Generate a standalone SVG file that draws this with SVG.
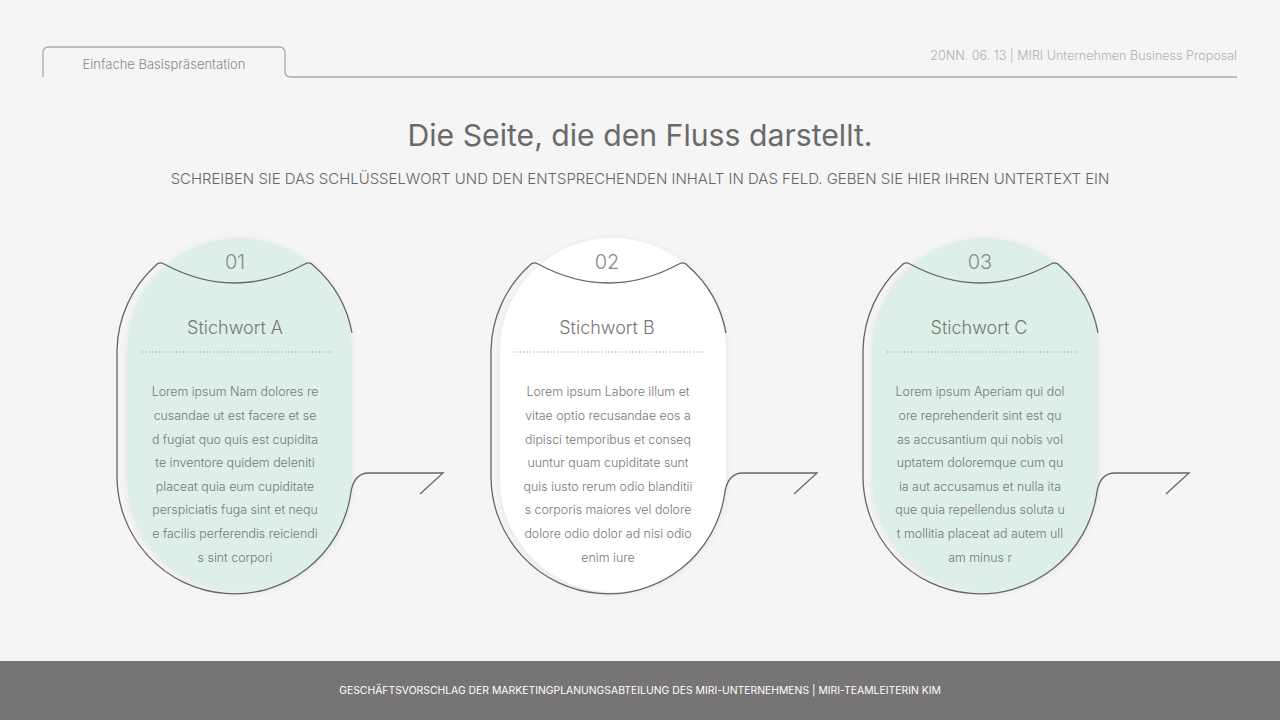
<svg xmlns="http://www.w3.org/2000/svg" width="1280" height="720" viewBox="0 0 1280 720">
<defs>
<style>
text{font-family:Inter,"Noto Sans","Liberation Sans",sans-serif}
.num{font-size:20px;fill:#8a8a8a;text-anchor:middle;font-weight:300}
.kw{font-size:18px;fill:#777;text-anchor:middle;font-weight:300}
.body{font-size:12.4px;fill:#777;text-anchor:middle;font-weight:300}
.outline{fill:none;stroke:#666;stroke-width:1.3}
.dots{stroke:#999;stroke-width:1.2;stroke-dasharray:1.2 2.2}
.mint{fill:#ddefe8}
.white{fill:#ffffff}
</style>
<filter id="sh" x="-20%" y="-20%" width="140%" height="140%">
<feDropShadow dx="0" dy="1" stdDeviation="3" flood-color="#000" flood-opacity="0.07"/>
</filter>
<path id="card-outline" d="M235 333 A117.5 117.5 0 0 0 197 266 Q193 261 188 264 Q117.5 302 47 264 Q42 261 38 266 A117.5 117.5 0 0 0 0 350 L0 476 A117.5 117.5 0 0 0 233.5 495 Q236 473 252 473 L326 473 L303 494"/>
</defs>
<rect width="1280" height="720" fill="#f5f5f5"/>
<g id="header">
<path d="M43 77 L43 53 Q43 47 49 47 L279 47 Q285 47 285 53 L285 71 Q285 77 291 77 L1237 77" fill="none" stroke="#aaa" stroke-width="1.3"/>
<text x="164" y="69" font-size="13" font-weight="300" fill="#8a8a8a" text-anchor="middle">Einfache Basispräsentation</text>
<text x="1237" y="60" font-size="12.55" font-weight="300" fill="#b0b0b0" text-anchor="end">20NN. 06. 13 | MIRI Unternehmen Business Proposal</text>
</g>
<g id="title">
<text x="640" y="146" font-size="30.2" fill="#6a6a6a" text-anchor="middle">Die Seite, die den Fluss darstellt.</text>
<text x="640" y="184" font-size="14.95" font-weight="300" fill="#666" text-anchor="middle">SCHREIBEN SIE DAS SCHLÜSSELWORT UND DEN ENTSPRECHENDEN INHALT IN DAS FELD. GEBEN SIE HIER IHREN UNTERTEXT EIN</text>
</g>
<g id="connectors"></g>
<g id="card-1" transform="translate(117,0)">
<rect class="mint" x="10" y="238" width="225" height="354" rx="112.5" filter="url(#sh)"/>
<use href="#card-outline" class="outline"/>
<text class="num" x="118" y="269">01</text>
<text class="kw" x="118" y="334">Stichwort A</text>
<line class="dots" x1="25" y1="352" x2="216" y2="352"/>
<text class="body"><tspan x="118" y="396">Lorem ipsum Nam dolores re</tspan><tspan x="118" y="420">cusandae ut est facere et se</tspan><tspan x="118" y="444">d fugiat quo quis est cupidita</tspan><tspan x="118" y="467">te inventore quidem deleniti</tspan><tspan x="118" y="491">placeat quia eum cupiditate</tspan><tspan x="118" y="514">perspiciatis fuga sint et nequ</tspan><tspan x="118" y="538">e facilis perferendis reiciendi</tspan><tspan x="118" y="562">s sint corpori</tspan></text>
</g>
<g id="card-2" transform="translate(491,0)">
<rect class="white" x="9" y="238" width="226" height="354" rx="113" filter="url(#sh)"/>
<use href="#card-outline" class="outline"/>
<text class="num" x="116" y="269">02</text>
<text class="kw" x="116" y="334">Stichwort B</text>
<line class="dots" x1="22" y1="352" x2="215" y2="352"/>
<text class="body"><tspan x="117" y="396">Lorem ipsum Labore illum et</tspan><tspan x="117" y="420">vitae optio recusandae eos a</tspan><tspan x="117" y="444">dipisci temporibus et conseq</tspan><tspan x="117" y="467">uuntur quam cupiditate sunt</tspan><tspan x="117" y="491">quis iusto rerum odio blanditii</tspan><tspan x="117" y="514">s corporis maiores vel dolore</tspan><tspan x="117" y="538">dolore odio dolor ad nisi odio</tspan><tspan x="117" y="562">enim iure</tspan></text>
</g>
<g id="card-3" transform="translate(863,0)">
<rect class="mint" x="9" y="238" width="226" height="354" rx="113" filter="url(#sh)"/>
<use href="#card-outline" class="outline"/>
<text class="num" x="117" y="269">03</text>
<text class="kw" x="116" y="334">Stichwort C</text>
<line class="dots" x1="24" y1="352" x2="215" y2="352"/>
<text class="body"><tspan x="117" y="396">Lorem ipsum Aperiam qui dol</tspan><tspan x="117" y="420">ore reprehenderit sint est qu</tspan><tspan x="117" y="444">as accusantium qui nobis vol</tspan><tspan x="117" y="467">uptatem doloremque cum qu</tspan><tspan x="117" y="491">ia aut accusamus et nulla ita</tspan><tspan x="117" y="514">que quia repellendus soluta u</tspan><tspan x="117" y="538">t mollitia placeat ad autem ull</tspan><tspan x="117" y="562">am minus r</tspan></text>
</g>
<g id="footer">
<rect x="0" y="661" width="1280" height="59" fill="#767474"/>
<text x="640" y="694" font-size="10.4" fill="#ffffff" text-anchor="middle">GESCHÄFTSVORSCHLAG DER MARKETINGPLANUNGSABTEILUNG DES MIRI-UNTERNEHMENS | MIRI-TEAMLEITERIN KIM</text>
</g>
</svg>
